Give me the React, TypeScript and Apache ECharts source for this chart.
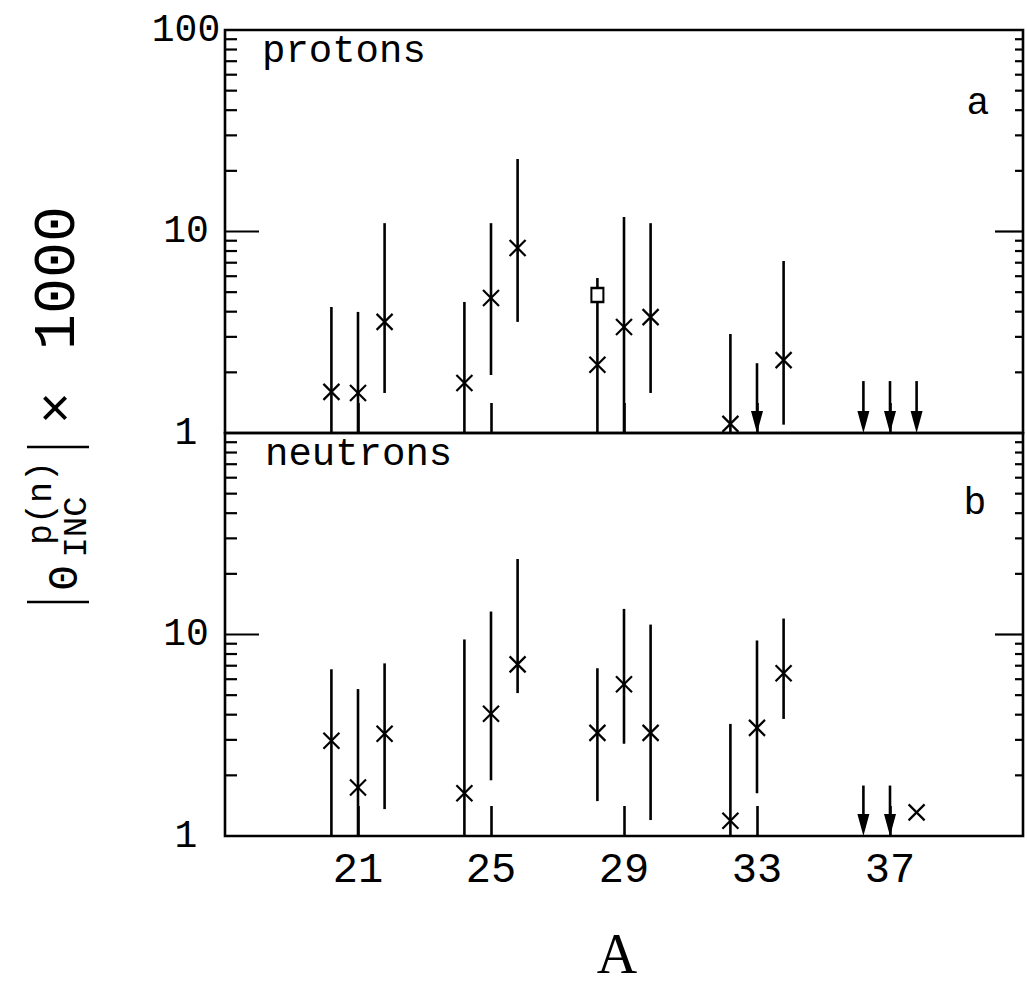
import React, { useEffect, useRef } from 'react';
import * as echarts from 'echarts';

// ---- data ----
const xCategories = [
  '-4', '-3', '-2', '-1',
  '20', '21', '22', 'g1', 'g2',
  '24', '25', '26', 'g3', 'g4',
  '28', '29', '30', 'g5', 'g6',
  '32', '33', '34', 'g7', 'g8',
  '36', '37', '38', 'e1', 'e2', 'e3', 'e4',
];
const xTickLabels = ['21', '25', '29', '33', '37'];
const yMinorTicks = [2, 3, 4, 5, 6, 7, 8, 9, 20, 30, 40, 50, 60, 70, 80, 90];
const yMajorTicks = [10];

// protons (panel a)
const protonA = ['20', '21', '22', '24', '25', '26', '28', '29', '30', '32', '34'];
const protonValue = [1.6, 1.58, 3.56, 1.77, 4.68, 8.28, 2.18, 3.36, 3.76, 1.11, 2.3];
const protonLow = [1, 1, 1.58, 1, 1.94, 3.56, 1, 1, 1.58, 1, 1.1];
const protonHigh = [4.22, 3.99, 11.0, 4.47, 11.0, 22.9, 5.88, 11.8, 11.0, 3.1, 7.14];
const protonLimitA = ['33', '36', '37', '38'];
const protonLimit = [2.22, 1.81, 1.81, 1.81];
const protonSquareA = ['28'];
const protonSquare = [4.84];

// neutrons (panel b)
const neutronA = ['20', '21', '22', '24', '25', '26', '28', '29', '30', '32', '33', '34', '38'];
const neutronValue = [2.97, 1.74, 3.22, 1.63, 4.04, 7.11, 3.25, 5.67, 3.25, 1.19, 3.44, 6.42, 1.31];
const neutronLow = [1, 1, 1.36, 1, 1.89, 5.12, 1.49, 2.87, 1.2, 1, 1.63, 3.81, 1.31];
const neutronHigh = [6.72, 5.36, 7.19, 9.45, 13.0, 23.7, 6.8, 13.4, 11.2, 3.6, 9.34, 12.0, 1.31];
const neutronLimitA = ['36', '37'];
const neutronLimit = [1.78, 1.78];

const MONO = '"Liberation Mono", "DejaVu Sans Mono", monospace';
const SERIF = '"Liberation Serif", "DejaVu Serif", serif';
const INK = '#000';

const renderMeasure = (params: any, api: any) => {
  const x = api.value(0);
  const p = api.coord([x, api.value(1)]);
  const pl = api.coord([x, api.value(2)]);
  const ph = api.coord([x, api.value(3)]);
  const s = 8;
  return {
    type: 'group',
    children: [
      { type: 'line', shape: { x1: p[0], y1: pl[1], x2: p[0], y2: ph[1] }, style: { stroke: INK, lineWidth: 2.6 } },
      { type: 'line', shape: { x1: p[0] - s, y1: p[1] - s, x2: p[0] + s, y2: p[1] + s }, style: { stroke: INK, lineWidth: 2.2 } },
      { type: 'line', shape: { x1: p[0] - s, y1: p[1] + s, x2: p[0] + s, y2: p[1] - s }, style: { stroke: INK, lineWidth: 2.2 } },
    ],
  };
};

const renderArrow = (params: any, api: any) => {
  const x = api.value(0);
  const from = api.coord([x, api.value(1)]);
  const tip = api.coord([x, 1]);
  const hw = 6;
  const hh = 22;
  return {
    type: 'group',
    children: [
      { type: 'line', shape: { x1: from[0], y1: from[1], x2: from[0], y2: tip[1] - hh + 2 }, style: { stroke: INK, lineWidth: 2.6 } },
      {
        type: 'polygon',
        shape: { points: [[tip[0] - hw, tip[1] - hh], [tip[0] + hw, tip[1] - hh], [tip[0], tip[1]]] },
        style: { fill: INK },
      },
    ],
  };
};

const renderTicks = (left: number, right: number) => (params: any, api: any) => {
  const cs = params.coordSys;
  const y = api.coord([0, api.value(1)])[1];
  return {
    type: 'group',
    children: [
      { type: 'line', shape: { x1: cs.x, y1: y, x2: cs.x + left, y2: y }, style: { stroke: INK, lineWidth: 2.2 } },
      { type: 'line', shape: { x1: cs.x + cs.width - right, y1: y, x2: cs.x + cs.width, y2: y }, style: { stroke: INK, lineWidth: 2.2 } },
    ],
  };
};

const tickFilter = (_i: number, v: string) => xTickLabels.includes(v);

function buildOption() {
  const gridBase = { left: 225, right: 4, height: 403, show: true, borderColor: INK, borderWidth: 2.6, backgroundColor: 'transparent' };
  const xBase = {
    type: 'category',
    data: xCategories,
    boundaryGap: false,
    axisLine: { show: false },
    axisTick: { show: true, inside: true, length: 30, interval: tickFilter, lineStyle: { color: INK, width: 2.6 } },
    splitLine: { show: false },
  };
  const yBase = {
    type: 'log',
    logBase: 10,
    min: 1,
    max: 100,
    axisLine: { show: false },
    axisTick: { show: false },
    splitLine: { show: false },
    axisLabel: { color: INK, fontFamily: MONO, fontSize: 38, align: 'center', margin: 39 },
  };
  const panelSeries = (gi: number, a: string[], v: number[], lo: number[], hi: number[], la: string[], lv: number[]) => [
    {
      type: 'custom', xAxisIndex: gi, yAxisIndex: gi, silent: true, clip: false,
      renderItem: renderTicks(12, 8),
      data: yMinorTicks.map((t) => [0, t]),
    },
    {
      type: 'custom', xAxisIndex: gi, yAxisIndex: gi, silent: true, clip: false,
      renderItem: renderTicks(34, 28),
      data: yMajorTicks.map((t) => [0, t]),
    },
    {
      type: 'custom', xAxisIndex: gi, yAxisIndex: gi, silent: true, clip: false,
      renderItem: renderMeasure,
      encode: { x: 0, y: 1 },
      data: a.map((c, i) => [c, v[i], lo[i], hi[i]]),
    },
    {
      type: 'custom', xAxisIndex: gi, yAxisIndex: gi, silent: true, clip: false,
      renderItem: renderArrow,
      encode: { x: 0, y: 1 },
      data: la.map((c, i) => [c, lv[i]]),
    },
  ];

  const rot = (x: number, y: number, text: string, size: number) => ({
    type: 'text', x, y, rotation: Math.PI / 2,
    style: { text, font: `${size}px ${MONO}`, fill: INK, textAlign: 'center', textVerticalAlign: 'middle' },
  });

  return {
    animation: false,
    backgroundColor: '#fff',
    grid: [{ ...gridBase, top: 30 }, { ...gridBase, top: 433 }],
    xAxis: [
      { ...xBase, gridIndex: 0, axisLabel: { show: false } },
      {
        ...xBase, gridIndex: 1,
        axisLabel: { show: true, interval: tickFilter, color: INK, fontFamily: MONO, fontSize: 42, margin: 14 },
      },
    ],
    yAxis: [
      { ...yBase, gridIndex: 0 },
      { ...yBase, gridIndex: 1, axisLabel: { ...yBase.axisLabel, formatter: (val: number) => (val > 50 ? '' : String(Math.round(val))) } },
    ],
    series: [
      ...panelSeries(0, protonA, protonValue, protonLow, protonHigh, protonLimitA, protonLimit),
      ...panelSeries(1, neutronA, neutronValue, neutronLow, neutronHigh, neutronLimitA, neutronLimit),
      {
        type: 'scatter', xAxisIndex: 0, yAxisIndex: 0, silent: true,
        symbol: 'rect', symbolSize: [12, 14],
        itemStyle: { color: '#fff', borderColor: INK, borderWidth: 2.2, opacity: 1 },
        data: protonSquareA.map((c, i) => [c, protonSquare[i]]),
        z: 5,
      },
    ],
    graphic: [
      { type: 'text', x: 262, y: 52, style: { text: 'protons', font: `39px ${MONO}`, fill: INK, textVerticalAlign: 'middle' } },
      { type: 'text', x: 265, y: 455, style: { text: 'neutrons', font: `39px ${MONO}`, fill: INK, textVerticalAlign: 'middle' } },
      { type: 'text', x: 978, y: 103, style: { text: 'a', font: `38px ${MONO}`, fill: INK, textAlign: 'center', textVerticalAlign: 'middle' } },
      { type: 'text', x: 975, y: 503, style: { text: 'b', font: `38px ${MONO}`, fill: INK, textAlign: 'center', textVerticalAlign: 'middle' } },
      { type: 'text', x: 617, y: 954, style: { text: 'A', font: `56px ${SERIF}`, fill: INK, textAlign: 'center', textVerticalAlign: 'middle' } },
      // y-axis title: |Θ^{p(n)}_{INC}| × 1000, rotated
      { type: 'line', shape: { x1: 27, y1: 602, x2: 89, y2: 602 }, style: { stroke: INK, lineWidth: 2.6 } },
      { type: 'line', shape: { x1: 27, y1: 447, x2: 89, y2: 447 }, style: { stroke: INK, lineWidth: 2.6 } },
      rot(66, 578, 'Θ', 42),
      rot(42, 503, 'p(n)', 35),
      rot(77, 527, 'INC', 34),
      rot(58, 408, '×', 54),
      rot(58, 278, '1000', 60),
    ],
  };
}

export default function App() {
  const ref = useRef<HTMLDivElement>(null);
  useEffect(() => {
    if (!ref.current) return;
    const chart = echarts.init(ref.current, undefined, { renderer: 'svg' });
    chart.setOption(buildOption() as any);
    return () => chart.dispose();
  }, []);
  return <div ref={ref} style={{ position: 'absolute', left: 0, top: 0, width: 1027, height: 984, background: '#fff' }} />;
}
